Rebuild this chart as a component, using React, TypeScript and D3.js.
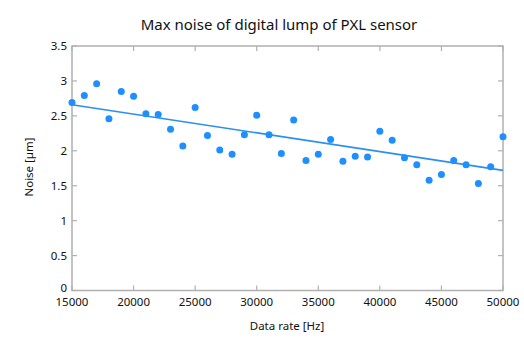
import React from "react";
import * as d3 from "d3";

const rates = [15000,16000,17000,18000,19000,20000,21000,22000,23000,24000,25000,26000,27000,28000,29000,30000,31000,32000,33000,34000,35000,36000,37000,38000,39000,40000,41000,42000,43000,44000,45000,46000,47000,48000,49000,50000];
const noise = [2.69,2.79,2.96,2.46,2.85,2.78,2.53,2.52,2.31,2.07,2.62,2.22,2.01,1.95,2.23,2.51,2.23,1.96,2.44,1.86,1.95,2.16,1.85,1.92,1.91,2.28,2.15,1.90,1.80,1.58,1.66,1.86,1.80,1.53,1.77,2.20];
const trendRates = [15000, 50000];
const trendNoise = [2.66, 1.72];
const xTicks = [15000,20000,25000,30000,35000,40000,45000,50000];
const yTicks = [0,0.5,1,1.5,2,2.5,3,3.5];
const title = "Max noise of digital lump of PXL sensor";
const xLabel = "Data rate [Hz]";
const yLabel = "Noise [µm]";

export default function App() {
  const W = 524, H = 343;
  const left = 72, right = 503, top = 46, bottom = 290.5;
  const x = d3.scaleLinear().domain([15000, 50000]).range([left, right]);
  const y = d3.scaleLinear().domain([0, 3.5]).range([bottom, top]);
  const line = d3.line<number>().x((_, i) => x(trendRates[i])).y(d => y(d));
  const axisCol = "#b0b0b0";
  const font = "'Noto Sans', sans-serif";
  return (
    <svg width={W} height={H} style={{ position: "absolute", left: 0, top: 0, background: "#fff" }}>
      <text x={279} y={30} textAnchor="middle" fontFamily={font} fontSize={15} fill="#111">{title}</text>
      <rect x={left} y={top} width={right - left} height={bottom - top} fill="none" stroke={axisCol} strokeWidth={1.5} />
      {xTicks.map(t => (
        <g key={"x" + t}>
          <line x1={x(t)} x2={x(t)} y1={bottom} y2={bottom - 5} stroke={axisCol} strokeWidth={1.2} />
          <line x1={x(t)} x2={x(t)} y1={top} y2={top + 5} stroke={axisCol} strokeWidth={1.2} />
          <text x={x(t)} y={306} textAnchor="middle" fontFamily={font} fontSize={11.5} fill="#111">{t}</text>
        </g>
      ))}
      {yTicks.map(t => (
        <g key={"y" + t}>
          <line x1={left} x2={left + 5} y1={y(t)} y2={y(t)} stroke={axisCol} strokeWidth={1.2} />
          <line x1={right} x2={right - 5} y1={y(t)} y2={y(t)} stroke={axisCol} strokeWidth={1.2} />
          <text x={67} y={t === 0 ? y(t) - 3 : y(t)} dy="0.35em" textAnchor="end" fontFamily={font} fontSize={11.5} fill="#111">{t}</text>
        </g>
      ))}
      <text x={287} y={330} textAnchor="middle" fontFamily={font} fontSize={11.5} fill="#111">{xLabel}</text>
      <text transform={`translate(33,167) rotate(-90)`} textAnchor="middle" fontFamily={font} fontSize={11.5} fill="#111">{yLabel}</text>
      <path d={line(trendNoise)!} fill="none" stroke="#2b8ff0" strokeWidth={1.6} />
      {rates.map((r, i) => (
        <circle key={r} cx={x(r)} cy={y(noise[i])} r={3.5} fill="#1e8fff" />
      ))}
    </svg>
  );
}
